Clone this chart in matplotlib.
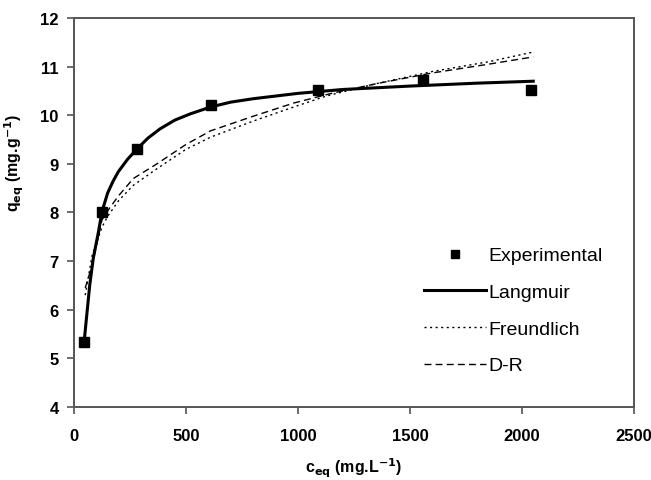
import matplotlib
matplotlib.use("Agg")
import matplotlib.pyplot as plt

# experimental points
c_exp = [45, 125, 280, 610, 1090, 1560, 2040]
q_exp = [5.33, 8.02, 9.30, 10.22, 10.52, 10.72, 10.52]

# model curves
c_lang = [45, 56, 70, 86, 109, 125, 150, 175, 198, 240, 280, 330, 384, 450, 520, 610, 700, 800, 1000, 1200, 1500, 1800, 2050]
q_lang = [5.33, 5.85, 6.5, 7.06, 7.6, 8.02, 8.4, 8.65, 8.84, 9.1, 9.3, 9.53, 9.72, 9.9, 10.03, 10.17, 10.27, 10.34, 10.45, 10.53, 10.6, 10.66, 10.7]

c_fr = [50, 80, 125, 150, 200, 265, 370, 500, 610, 800, 1000, 1130, 1350, 1600, 1850, 2050]
q_fr = [6.3, 7.1, 7.7, 7.92, 8.25, 8.56, 8.9, 9.3, 9.55, 9.88, 10.2, 10.4, 10.65, 10.9, 11.1, 11.3]

c_dr = [50, 80, 125, 160, 200, 265, 370, 500, 610, 800, 980, 1150, 1350, 1600, 1850, 2050]
q_dr = [6.45, 6.9, 7.85, 8.1, 8.35, 8.7, 9.0, 9.4, 9.68, 9.98, 10.25, 10.45, 10.65, 10.87, 11.05, 11.2]

plt.rcParams["font.family"] = ["Liberation Sans", "DejaVu Sans"]

fig = plt.figure(figsize=(6.51, 4.81), dpi=100)
ax = fig.add_axes([0.1137, 0.1518, 0.8603, 0.8087])

ax.plot(c_exp, q_exp, "s", color="black", markersize=6.5, label="Experimental")
ax.plot(c_lang, q_lang, "-", color="black", linewidth=2.2, label="Langmuir")
ax.plot(c_fr, q_fr, color="black", linewidth=1.0, linestyle=(0, (1.5, 2.5)), label="Freundlich")
ax.plot(c_dr, q_dr, color="black", linewidth=1.0, linestyle=(0, (5, 3)), label="D-R")

ax.set_xlim(0, 2500)
ax.set_ylim(4, 12)
ax.set_xticks([0, 500, 1000, 1500, 2000, 2500])
ax.set_yticks(range(4, 13))

for s in ax.spines.values():
    s.set_color("#555555")
    s.set_linewidth(1.4)
ax.tick_params(direction="out", length=5, width=1.2, color="#555555", labelsize=12)
for lbl in ax.get_xticklabels() + ax.get_yticklabels():
    lbl.set_fontweight("bold")
ax.tick_params(axis="x", pad=10)
ax.tick_params(axis="y", pad=6)

ax.set_xlabel(r"c$_{\mathbf{eq}}$ (mg.L$^{\mathbf{-1}}$)", fontsize=11.5, fontweight="bold")
ax.set_ylabel(r"q$_{\mathbf{eq}}$ (mg.g$^{\mathbf{-1}}$)", fontsize=11.5, fontweight="bold")
ax.xaxis.set_label_coords(0.5, -0.125)
ax.yaxis.set_label_coords(-0.085, 0.63)

leg = ax.legend(loc="upper left", bbox_to_anchor=(0.625, 0.412), frameon=False,
                fontsize=14, handlelength=3.2, handletextpad=0.1,
                labelspacing=0.98, borderpad=0, borderaxespad=0, markerscale=0.8)

fig.savefig("out.png", dpi=100)
